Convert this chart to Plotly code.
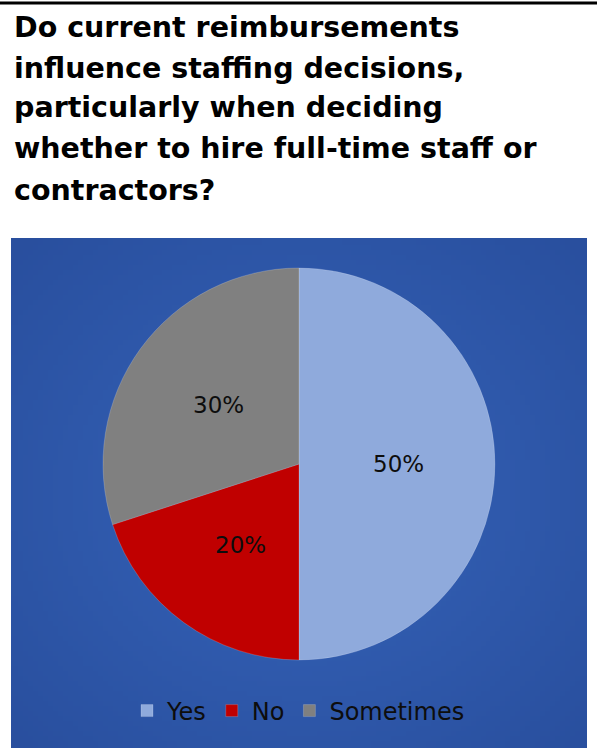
import base64, struct, zlib, math
import numpy as np
import plotly.graph_objects as go

# ---- data ----
labels = ["Yes", "No", "Sometimes"]
values = [50, 20, 30]
colors = ["#8faadc", "#c00000", "#808080"]
title_lines = [
    "Do current reimbursements",
    "influence staffing decisions,",
    "particularly when deciding",
    "whether to hire full-time staff or",
    "contractors?",
]

W, H = 597, 751

# ---- gradient background image (radial, lighter center) ----
def make_png(arr):
    h, w, _ = arr.shape
    raw = b"".join(b"\x00" + arr[i].tobytes() for i in range(h))
    def chunk(t, d):
        c = struct.pack(">I", len(d)) + t + d
        return c + struct.pack(">I", zlib.crc32(t + d) & 0xffffffff)
    png = b"\x89PNG\r\n\x1a\n"
    png += chunk(b"IHDR", struct.pack(">IIBBBBB", w, h, 8, 2, 0, 0, 0))
    png += chunk(b"IDAT", zlib.compress(raw, 9))
    png += chunk(b"IEND", b"")
    return "data:image/png;base64," + base64.b64encode(png).decode()

gw, gh = 116, 102
yy, xx = np.mgrid[0:gh, 0:gw]
r = np.sqrt(((xx - gw * 0.5) / (gw * 0.5)) ** 2 + ((yy - gh * 0.5) / (gh * 0.5)) ** 2)
r = np.clip(r / 1.414, 0, 1)
c_in = np.array([54, 100, 186], dtype=float)
c_out = np.array([41, 79, 158], dtype=float)
img = (c_in[None, None, :] * (1 - r[..., None]) + c_out[None, None, :] * r[..., None]).astype(np.uint8)
bg_src = make_png(img)

box_x0, box_x1 = 11 / W, 587 / W
box_y0, box_y1 = 1 - 748 / H, 1 - 238 / H

pie_x = [(299 - 196) / W, (299 + 196) / W]
pie_y = [1 - 660 / H, 1 - 268 / H]

fig = go.Figure()
fig.add_trace(go.Pie(
    labels=labels,
    values=values,
    sort=False,
    direction="clockwise",
    rotation=0,
    marker=dict(colors=colors, line=dict(color="rgba(255,255,255,0.35)", width=0.5)),
    textinfo="none",
    domain=dict(x=pie_x, y=pie_y),
    hoverinfo="label+percent",
))

# percent labels placed at half radius along each slice's mid-angle
total = sum(values)
cx, cy = (pie_x[0] + pie_x[1]) / 2, (pie_y[0] + pie_y[1]) / 2
rx, ry = (pie_x[1] - pie_x[0]) / 2, (pie_y[1] - pie_y[0]) / 2
cum = 0
for v in values:
    mid = (cum + v / 2) / total * 2 * math.pi
    cum += v
    fig.add_annotation(
        text=f"{round(v / total * 100)}%",
        x=cx + 0.51 * rx * math.sin(mid), y=cy + 0.51 * ry * math.cos(mid),
        xref="paper", yref="paper", showarrow=False,
        xanchor="center", yanchor="middle",
        font=dict(family="DejaVu Sans", size=23, color="#0d0d0d"),
    )

title_y = [27, 68, 108, 149, 190]
for line, ty in zip(title_lines, title_y):
    fig.add_annotation(
        text="<b>" + line + "</b>",
        x=12 / W, y=1 - ty / H, xref="paper", yref="paper",
        xanchor="left", yanchor="middle", showarrow=False,
        font=dict(family="DejaVu Sans", size=28.5, color="#000000"),
    )

fig.update_layout(
    width=W, height=H,
    margin=dict(l=0, r=0, t=0, b=0),
    paper_bgcolor="#ffffff",
    plot_bgcolor="#ffffff",
    showlegend=True,
    legend=dict(
        orientation="h", x=0.5, xanchor="center", y=1 - 711 / H, yanchor="middle",
        font=dict(family="DejaVu Sans", size=24, color="#0d0d0d"),
        bgcolor="rgba(0,0,0,0)", itemwidth=30, traceorder="normal",
    ),
    images=[dict(
        source=bg_src, xref="paper", yref="paper",
        x=box_x0, y=box_y1, sizex=box_x1 - box_x0, sizey=box_y1 - box_y0,
        xanchor="left", yanchor="top", sizing="stretch", layer="below",
    )],
    shapes=[dict(
        type="line", xref="paper", yref="paper",
        x0=0, x1=1, y0=1 - 3 / H, y1=1 - 3 / H,
        line=dict(color="#000000", width=3),
    )],
)

fig.write_html("out.html")
